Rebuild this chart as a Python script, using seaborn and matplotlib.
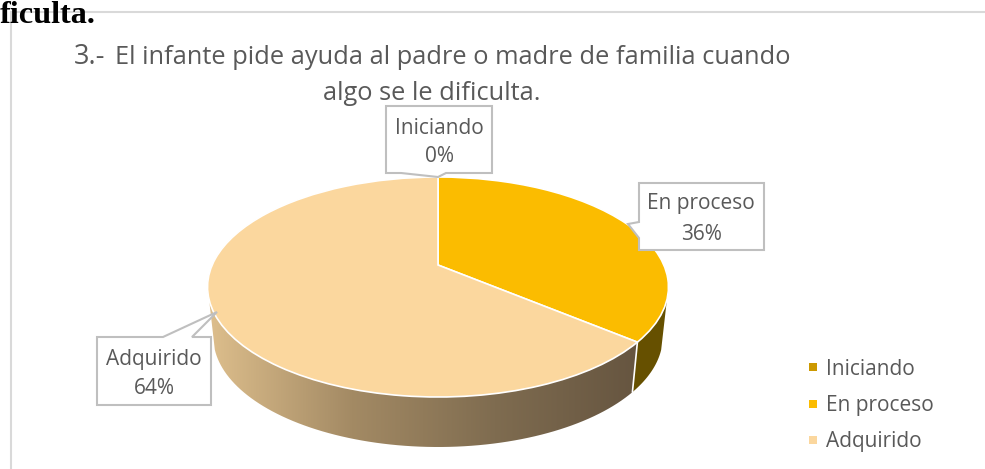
import numpy as np
import matplotlib
matplotlib.use('Agg')
import matplotlib.pyplot as plt
from matplotlib.patches import Polygon
from matplotlib.transforms import Transform
import seaborn as sns

labels = ['Iniciando', 'En proceso', 'Adquirido']
values = [0, 36, 64]
colors = ['#CC9900', '#FBBC00', '#FBD79E']
title_num = '3.-'
title_1 = 'El infante pide ayuda al padre o madre de familia cuando'
title_2 = 'algo se le dificulta.'
cut_text = 'ficulta.'

GREY = '#595959'
BOX = '#BFBFBF'

sns.set_theme(style='white')
plt.rcParams['font.family'] = ['Open Sans', 'DejaVu Sans']

# pie perspective, all in pixels of the image
CX, CY = 438, 265
RX, RY = 225.8, 105.6
P = 0.2
DEPTH = 50
SHRINK = 0.975


class PieView(Transform):
    input_dims = 2
    output_dims = 2
    is_separable = False
    has_inverse = False

    def transform_non_affine(self, xy):
        xy = np.asarray(xy, dtype=float)
        w = 1 + P * xy[:, 1]
        return np.column_stack([CX + RX * xy[:, 0] / w, CY - RY * xy[:, 1] / w])


def rim(theta_from, theta_to, lower=False):
    # theta runs clockwise from the top of the pie, in degrees
    t = np.radians(np.linspace(theta_from, theta_to, 80))
    pts = PieView().transform_non_affine(np.column_stack([np.sin(t), np.cos(t)]))
    if lower:
        pts[:, 0] = CX + SHRINK * (pts[:, 0] - CX)
        pts[:, 1] = pts[:, 1] + DEPTH
    return pts


fig = plt.figure(figsize=(9.85, 4.69), dpi=100)
ax = fig.add_axes([0, 0, 1, 1])

wedges, _ = ax.pie(values, colors=colors, startangle=90, counterclock=False,
                   wedgeprops={'edgecolor': 'white', 'linewidth': 1.2, 'zorder': 3})
for w in wedges:
    w.set_transform(PieView() + ax.transData)

# side of the pie, only the front part shows
split = 360 * values[1] / sum(values)
front_from, front_to = 108, 252

wall_dark = Polygon(np.vstack([rim(front_from, split), rim(front_from, split, True)[::-1]]),
                    facecolor='#665000', edgecolor='none', zorder=1, transform=ax.transData)
ax.add_patch(wall_dark)

wall_pts = np.vstack([rim(split, front_to), rim(split, front_to, True)[::-1]])
wall_clip = Polygon(wall_pts, facecolor='none', edgecolor='none', transform=ax.transData)
ax.add_patch(wall_clip)
cmap = sns.blend_palette(['#DDBE8C', '#A38A64', '#7F6C50', '#665540'], as_cmap=True)
grad = ax.imshow(np.linspace(0, 1, 256)[None, :], cmap=cmap, aspect='auto', zorder=1,
                 extent=[wall_pts[:, 0].min(), wall_pts[:, 0].max(), 460, 280])
grad.set_clip_path(wall_clip)

edge = np.vstack([rim(split, split), rim(split, split, True)])
ax.plot(edge[[0, -1], 0], edge[[0, -1], 1], color='white', lw=1.2, zorder=2)

ax.set_aspect('auto')
ax.set_xlim(0, 985)
ax.set_ylim(469, 0)
ax.axis('off')

# chart frame, cut by the page
ax.plot([11, 985], [12, 12], color='#D9D9D9', lw=1.5, zorder=1)
ax.plot([11, 11], [12, 469], color='#D9D9D9', lw=1.5, zorder=1)
ax.text(0, 23, cut_text, family='Liberation Serif', weight='bold', fontsize=23.2,
        color='black', ha='left', va='baseline', zorder=5)

ax.text(74, 64, title_num, fontsize=19.5, color=GREY, ha='left', va='baseline')
ax.text(115, 64, title_1, fontsize=18.3, color=GREY, ha='left', va='baseline')
ax.text(432, 100, title_2, fontsize=18.3, color=GREY, ha='center', va='baseline')

# data labels with their callouts
callouts = [
    ([(386, 106), (492, 106), (492, 173), (446, 173), (438, 177), (401, 173), (386, 173)], 439, 128, 156),
    ([(639, 183), (764, 183), (764, 250), (639, 250), (639, 238), (628, 224), (639, 222)], 701, 204, 234),
    ([(97, 337), (163, 337), (217, 312), (192, 337), (211, 337), (211, 405), (97, 405)], 154, 360, 389),
]
order = [0, 1, 2]
for i, (shape, tx, y1, y2) in zip(order, callouts):
    ax.add_patch(Polygon(shape, facecolor='white', edgecolor=BOX, lw=1.5, zorder=4))
    ax.text(tx, y1, labels[i], fontsize=15, color=GREY, ha='center', va='center', zorder=5)
    ax.text(tx, y2, f'{values[i]}%', fontsize=15, color=GREY, ha='center', va='center', zorder=5)

leg = ax.legend(wedges, labels, frameon=False, fontsize=15, labelcolor=GREY,
                loc='lower left', bbox_to_anchor=(809 / 985, 1 - 452.5 / 469),
                bbox_transform=fig.transFigure, borderaxespad=0, borderpad=0,
                handlelength=0.39, handleheight=0.214, handletextpad=0.43, labelspacing=0.74)
for h in leg.get_patches():
    h.set_linewidth(0)

fig.savefig('out.png', dpi=100)
